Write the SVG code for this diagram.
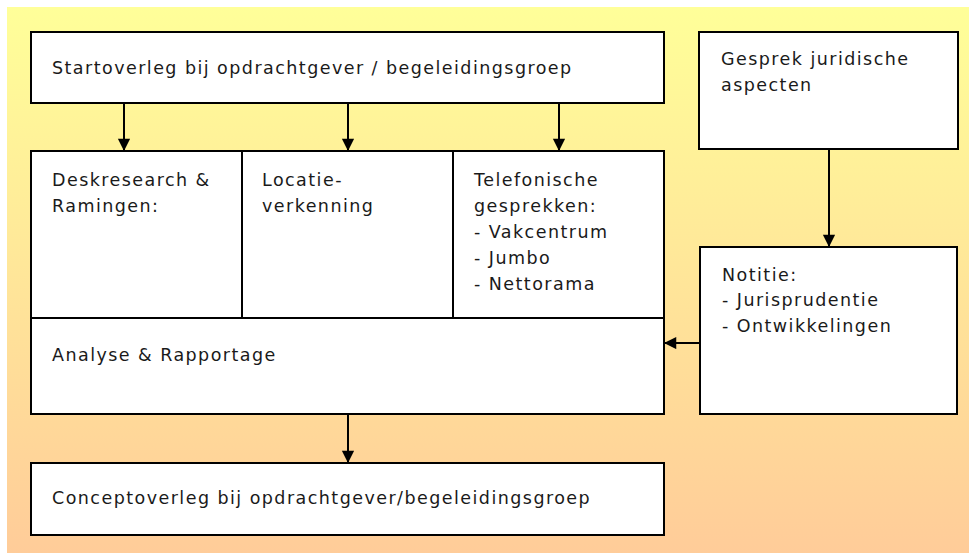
<svg xmlns="http://www.w3.org/2000/svg" width="969" height="553" viewBox="0 0 969 553">
  <defs>
    <linearGradient id="bg" x1="0" y1="0" x2="0" y2="1">
      <stop offset="0" stop-color="#FFFF99"/>
      <stop offset="1" stop-color="#FFCC99"/>
    </linearGradient>
    <marker id="arr" viewBox="0 0 14 16" refX="14" refY="7" markerWidth="14" markerHeight="14" markerUnits="userSpaceOnUse" orient="auto">
      <path d="M0,0 L14,7 L0,14 Z" fill="#000"/>
    </marker>
  </defs>
  <style>
    .box { fill: #fff; stroke: #000; stroke-width: 2; }
    .t { font-family: "DejaVu Sans", Verdana, sans-serif; font-size: 17.5px; letter-spacing: 1.45px; fill: #1a1a1a; }
    .c { stroke: #000; stroke-width: 2; fill: none; marker-end: url(#arr); }
  </style>
  <rect x="7" y="7" width="962" height="546" fill="url(#bg)"/>

  <g id="start">
    <rect class="box" x="31" y="32" width="633" height="71"/>
    <text class="t" x="52" y="74">Startoverleg bij opdrachtgever / begeleidingsgroep</text>
  </g>
  <g id="desk">
    <rect class="box" x="31" y="151" width="211" height="167"/>
    <text class="t" x="52" y="186">Deskresearch &amp;</text>
    <text class="t" x="52" y="212">Ramingen:</text>
  </g>
  <g id="locatie">
    <rect class="box" x="242" y="151" width="211" height="167"/>
    <text class="t" x="262" y="186">Locatie-</text>
    <text class="t" x="262" y="212">verkenning</text>
  </g>
  <g id="telefonisch">
    <rect class="box" x="453" y="151" width="211" height="167"/>
    <text class="t" x="474" y="186">Telefonische</text>
    <text class="t" x="474" y="212">gesprekken:</text>
    <text class="t" x="474" y="238">- Vakcentrum</text>
    <text class="t" x="474" y="264">- Jumbo</text>
    <text class="t" x="474" y="290">- Nettorama</text>
  </g>
  <g id="analyse">
    <rect class="box" x="31" y="318" width="633" height="96"/>
    <text class="t" x="52" y="361">Analyse &amp; Rapportage</text>
  </g>
  <g id="concept">
    <rect class="box" x="31" y="463" width="633" height="72"/>
    <text class="t" x="52" y="504">Conceptoverleg bij opdrachtgever/begeleidingsgroep</text>
  </g>
  <g id="gesprek">
    <rect class="box" x="699" y="32" width="259" height="117"/>
    <text class="t" x="721" y="65">Gesprek juridische</text>
    <text class="t" x="721" y="91">aspecten</text>
  </g>
  <g id="notitie">
    <rect class="box" x="700" y="247" width="257" height="167"/>
    <text class="t" x="722" y="281">Notitie:</text>
    <text class="t" x="722" y="306">- Jurisprudentie</text>
    <text class="t" x="722" y="332">- Ontwikkelingen</text>
  </g>

  <g id="connectors">
    <line class="c" x1="124" y1="103" x2="124" y2="151"/>
    <line class="c" x1="348" y1="103" x2="348" y2="151"/>
    <line class="c" x1="559" y1="103" x2="559" y2="151"/>
    <line class="c" x1="829" y1="149" x2="829" y2="247"/>
    <line class="c" x1="700" y1="343" x2="664" y2="343"/>
    <line class="c" x1="348" y1="414" x2="348" y2="463"/>
  </g>
</svg>
